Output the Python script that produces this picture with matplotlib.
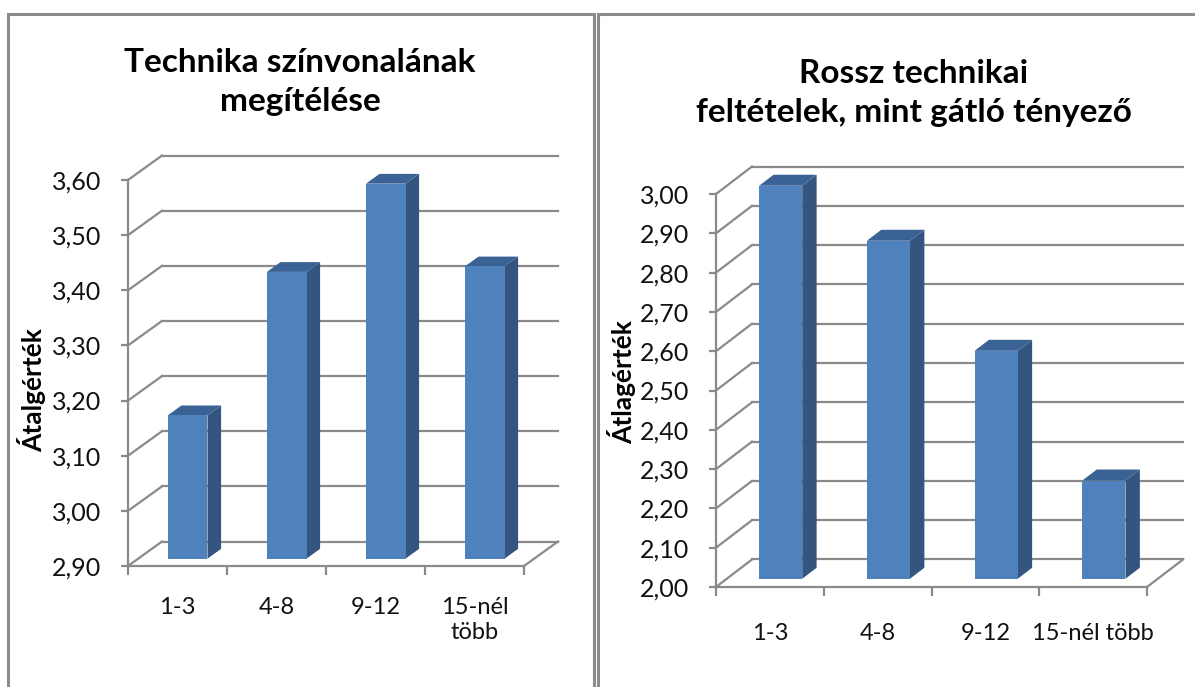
import matplotlib
matplotlib.use("Agg")
import matplotlib.pyplot as plt
from matplotlib.patches import Polygon, Rectangle
from matplotlib.lines import Line2D

# ---------------- data ----------------
categories_left = ["1-3", "4-8", "9-12", "15-nél\ntöbb"]
values_left = [3.16, 3.42, 3.58, 3.43]
yticks_left = [2.90, 3.00, 3.10, 3.20, 3.30, 3.40, 3.50, 3.60]
yticklabels_left = ["2,90", "3,00", "3,10", "3,20", "3,30", "3,40", "3,50", "3,60"]
title_left = "Technika színvonalának\nmegítélése"
ylabel_left = "Átalgérték"

categories_right = ["1-3", "4-8", "9-12", "15-nél több"]
values_right = [3.00, 2.86, 2.58, 2.25]
yticks_right = [2.00, 2.10, 2.20, 2.30, 2.40, 2.50, 2.60, 2.70, 2.80, 2.90, 3.00]
yticklabels_right = ["2,00", "2,10", "2,20", "2,30", "2,40", "2,50", "2,60", "2,70", "2,80", "2,90", "3,00"]
title_right = "Rossz technikai\nfeltételek, mint gátló tényező"
ylabel_right = "Átlagérték"

# ---------------- style ----------------
W, H = 1195, 687
DPI = 100
FONT = ["Lato", "DejaVu Sans"]
GRID = "#8a8a8a"
FRONT = "#4F81BD"
SIDE = "#34557F"
TOP = "#3B6294"
BORDER = "#8c8c8c"

plt.rcParams["font.family"] = FONT

fig = plt.figure(figsize=(W / DPI, H / DPI), dpi=DPI)
fig.patch.set_facecolor("white")


def fx(px):
    return px / W


def fy(py):
    return 1 - py / H


# panel borders
fig.add_artist(Rectangle((fx(8), fy(720)), fx(586), (720 - 14) / H, transform=fig.transFigure,
                         fill=False, edgecolor=BORDER, lw=2.2))
fig.add_artist(Rectangle((fx(598), fy(720)), fx(650), (720 - 14) / H, transform=fig.transFigure,
                         fill=False, edgecolor=BORDER, lw=2.2))


def chart(box, cats, vals, yt, ytl, depth_px, title, title_xy, ylabel, ylabel_xy, xlab_pad):
    l, r, t, b = box
    ax = fig.add_axes([fx(l), fy(b), fx(r - l), (b - t) / H])
    ymin, ymax = yt[0], yt[-1]
    n = len(cats)
    ax.set_xlim(0, n)
    ax.set_ylim(ymin, ymax)
    ax.set_facecolor("none")
    # depth in data units
    ddx = depth_px[0] / ((r - l) / n)
    ddy = depth_px[1] / ((b - t) / (ymax - ymin))

    # back wall gridlines and left wall diagonals
    for v in yt:
        ax.add_line(Line2D([ddx, n + ddx], [v + ddy, v + ddy], color=GRID, lw=1.6,
                           clip_on=False, zorder=1))
        ax.add_line(Line2D([0, ddx], [v, v + ddy], color=GRID, lw=1.6, clip_on=False, zorder=1))
    # floor right edge
    ax.add_line(Line2D([n, n + ddx], [ymin, ymin + ddy], color=GRID, lw=1.6, clip_on=False, zorder=1))

    # bars
    w = 0.40
    f1, f2 = 0.30, 0.70
    xs = [i + 0.5 for i in range(n)]
    ax.bar([x + f1 * ddx for x in xs], [v - ymin for v in vals], bottom=ymin + f1 * ddy,
           width=w, color=FRONT, edgecolor="none", zorder=3, clip_on=False)
    for x, v in zip(xs, vals):
        x0, x1 = x - w / 2, x + w / 2
        side = [(x1 + f1 * ddx, ymin + f1 * ddy), (x1 + f2 * ddx, ymin + f2 * ddy),
                (x1 + f2 * ddx, v + f2 * ddy), (x1 + f1 * ddx, v + f1 * ddy)]
        top = [(x0 + f1 * ddx, v + f1 * ddy), (x1 + f1 * ddx, v + f1 * ddy),
               (x1 + f2 * ddx, v + f2 * ddy), (x0 + f2 * ddx, v + f2 * ddy)]
        ax.add_patch(Polygon(side, closed=True, facecolor=SIDE, edgecolor="none", zorder=2.5, clip_on=False))
        ax.add_patch(Polygon(top, closed=True, facecolor=TOP, edgecolor="none", zorder=2.5, clip_on=False))

    # axes
    for s in ["top", "right"]:
        ax.spines[s].set_visible(False)
    for s in ["left", "bottom"]:
        ax.spines[s].set_color(GRID)
        ax.spines[s].set_linewidth(1.6)
    ax.set_yticks(yt)
    ax.set_yticklabels(ytl, fontsize=18, color="#111111")
    ax.tick_params(axis="y", length=5, width=1.6, color=GRID, pad=14)
    ax.set_xticks(range(n + 1))
    ax.set_xticklabels([""] * (n + 1))
    ax.tick_params(axis="x", which="major", length=6.5, width=1.6, color=GRID)
    ax.set_xticks(xs, minor=True)
    ax.set_xticklabels(cats, minor=True, fontsize=17, color="#111111", linespacing=1.25)
    ax.tick_params(axis="x", which="minor", length=0, pad=xlab_pad)

    fig.text(fx(title_xy[0]), fy(title_xy[1]), title, ha="center", va="center",
             fontsize=24, fontweight="bold", linespacing=1.4, color="#000000")
    fig.text(fx(ylabel_xy[0]), fy(ylabel_xy[1]), ylabel, ha="center", va="center",
             rotation=90, fontsize=19, fontweight="bold", color="#000000")
    return ax


chart((128, 524, 180, 566), categories_left, values_left, yticks_left, yticklabels_left,
      (34, 24.5), title_left, (300, 82), ylabel_left, (32, 390), 22)
chart((716, 1147, 194, 587), categories_right, values_right, yticks_right, yticklabels_right,
      (36, 27.5), title_right, (914, 93), ylabel_right, (622, 382), 26)

fig.savefig("out.png", dpi=DPI, facecolor="white")
